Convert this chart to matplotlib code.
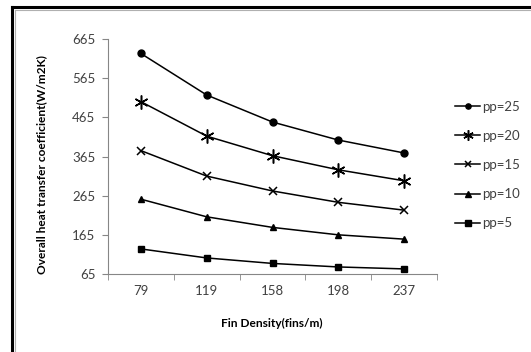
import matplotlib

matplotlib.use("Agg")

import matplotlib.pyplot as plt
from matplotlib.lines import Line2D

plt.rcParams["font.family"] = ["Lato", "DejaVu Sans"]

fin_density = ["79", "119", "158", "198", "237"]
pp25 = [628, 522, 453, 407, 374]
pp20 = [505, 417, 367, 331, 303]
pp15 = [380, 315, 277, 248, 228]
pp10 = [256, 211, 184, 165, 154]
pp5 = [129, 106, 92, 83, 78]
y_ticks = [65, 165, 265, 365, 465, 565, 665]

series = [
    ("pp=25", pp25, dict(marker="o", markersize=5)),
    ("pp=20", pp20, dict(marker=(6, 2, 0), markersize=10, markeredgewidth=1.1)),
    ("pp=15", pp15, dict(marker="x", markersize=6, markeredgewidth=1.1)),
    ("pp=10", pp10, dict(marker="^", markersize=5)),
    ("pp=5", pp5, dict(marker="s", markersize=5)),
]

fig = plt.figure(figsize=(5.31, 3.52), dpi=100)
ax = fig.add_axes([108 / 531, 1 - 274 / 352, 329 / 531, 235 / 352])

positions = list(range(1, len(fin_density) + 1))
for label, values, style in series:
    ax.plot(positions, values, color="black", linewidth=1.1, label=label, **style)

axis_grey = "#868686"
ax.set_xlim(0.5, len(fin_density) + 0.5)
ax.set_ylim(y_ticks[0], y_ticks[-1])
ax.set_yticks(y_ticks)
ax.set_xticks(positions)
ax.set_xticklabels(fin_density)
ax.set_xticks([p + 0.5 for p in range(len(fin_density) + 1)], minor=True)
ax.tick_params(axis="x", which="major", length=0, pad=8, labelsize=9.5, labelcolor="#404040")
ax.tick_params(axis="x", which="minor", length=4, color=axis_grey, direction="out")
ax.tick_params(axis="y", length=4, color=axis_grey, pad=5, labelsize=9.5, labelcolor="#404040")
for side in ("top", "right"):
    ax.spines[side].set_visible(False)
for side in ("left", "bottom"):
    ax.spines[side].set_color(axis_grey)
    ax.spines[side].set_linewidth(0.8)

fig.text(272 / 531, 1 - 323 / 352, "Fin Density(fins/m)", ha="center", va="center",
         fontsize=8.6, fontweight="bold")
fig.text(42 / 531, 1 - 165 / 352, "Overall heat transfer coefficient(W/m2K)", ha="center",
         va="center", rotation=90, fontsize=8.6, fontweight="bold")

fig.legend(loc="center left", bbox_to_anchor=(455 / 531, 1 - 165 / 352), frameon=False,
           fontsize=9.5, handlelength=1.9, handletextpad=0.15, labelspacing=1.3,
           borderpad=0, borderaxespad=0, labelcolor="#404040", markerscale=0.75)

# chart frame: heavy left and top edges with a faint inner line
fig.add_artist(Line2D([12 / 531, 12 / 531], [0, 1 - 7 / 352], transform=fig.transFigure,
                      color="black", linewidth=2.2, solid_capstyle="projecting"))
fig.add_artist(Line2D([12 / 531, 1], [1 - 7 / 352, 1 - 7 / 352], transform=fig.transFigure,
                      color="black", linewidth=2.2, solid_capstyle="projecting"))
fig.add_artist(Line2D([14.5 / 531, 14.5 / 531], [0, 1 - 9.5 / 352], transform=fig.transFigure,
                      color="#b0b0b0", linewidth=0.8))
fig.add_artist(Line2D([14.5 / 531, 1], [1 - 9.5 / 352, 1 - 9.5 / 352], transform=fig.transFigure,
                      color="#b0b0b0", linewidth=0.8))

fig.savefig("out.png", dpi=100)
